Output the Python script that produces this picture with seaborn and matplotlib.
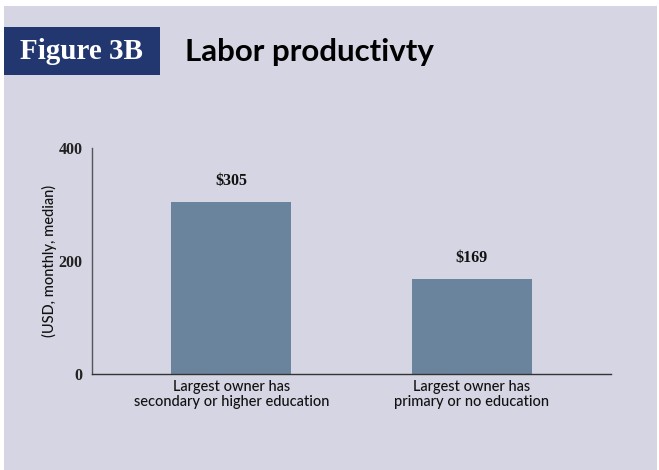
import matplotlib
matplotlib.use("Agg")
import matplotlib.pyplot as plt
import seaborn as sns
import pandas as pd
from matplotlib.patches import Rectangle

categories = ["Largest owner has\nsecondary or higher education",
              "Largest owner has\nprimary or no education"]
values = [305, 169]
value_labels = ["$305", "$169"]
yticks = [0, 200, 400]

BG = "#d5d5e3"
BAR = "#6b849d"
NAVY = "#22376f"

sns.set_theme(style="white")
plt.rcParams['font.family'] = ['Lato', 'DejaVu Sans']

fig = plt.figure(figsize=(6.59, 4.70), dpi=100)
fig.patch.set_facecolor("white")
fig.add_artist(Rectangle((4/659, 0), (657-4)/659, (470-6)/470,
                         transform=fig.transFigure, facecolor=BG,
                         edgecolor="none", zorder=-10))
fig.add_artist(Rectangle((4/659, 1-75/470), (160-4)/659, 48/470,
                         transform=fig.transFigure, facecolor=NAVY,
                         edgecolor="none", zorder=-5))
fig.text(81/659, 1-52/470, "Figure 3B", color="white", fontsize=21,
         fontweight="bold", family=["Liberation Serif"], ha="center", va="center")
fig.text(185/659, 1-52/470, "Labor productivty", color="black", fontsize=22.5,
         fontweight="bold", ha="left", va="center")

ax = fig.add_axes([92/659, 96/470, (611-92)/659, (374-148)/470])
ax.set_facecolor("none")
df = pd.DataFrame({"cat": categories, "val": values})
sns.barplot(data=df, x="cat", y="val", color=BAR, width=0.5, saturation=1,
            linewidth=0, ax=ax)
ax.set_xlim(-0.581, 1.581)
ax.set_ylim(0, 400)
ax.set_yticks(yticks)
ax.set_yticklabels([str(t) for t in yticks], fontsize=11.5, fontweight="bold",
                   family=["Liberation Serif"], color="#222222")
ax.tick_params(axis="x", length=0, pad=4, labelsize=10.5, colors="#111111")
ax.tick_params(axis="y", length=0, pad=7)
for lab in ax.get_xticklabels():
    lab.set_linespacing(1.15)
    lab.set_fontweight("medium")
ax.set_xlabel("")
ax.set_ylabel("(USD, monthly, median)", fontsize=10.5, color="#111111",
              labelpad=1, fontweight="medium")
for s in ["top", "right"]:
    ax.spines[s].set_visible(False)
ax.spines["left"].set_color("#555555")
ax.spines["bottom"].set_color("#333333")
ax.spines["left"].set_linewidth(1.0)
ax.spines["bottom"].set_linewidth(1.0)

for i, (v, lab) in enumerate(zip(values, value_labels)):
    ax.annotate(lab, (i, v), xytext=(0, 9), textcoords="offset points",
                ha="center", va="bottom", fontsize=11.5, fontweight="bold",
                family=["Liberation Serif"], color="#111111")

fig.savefig("out.png", dpi=100, facecolor=fig.get_facecolor())
